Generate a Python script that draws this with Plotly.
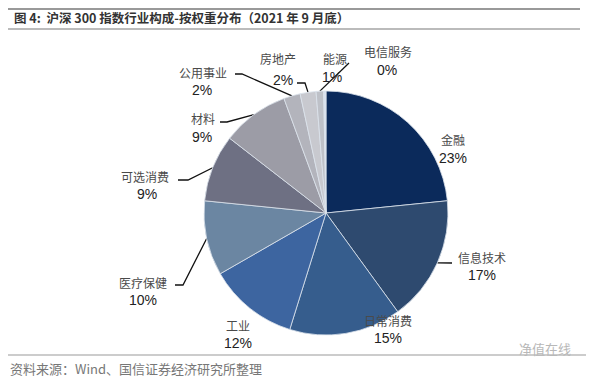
import math
import plotly.graph_objects as go

# ---- data ----
sectors = ["金融", "信息技术", "日常消费", "工业", "医疗保健", "可选消费",
           "材料", "公用事业", "房地产", "能源", "电信服务"]
weights = [23.4, 16.6, 14.8, 11.9, 9.9, 8.9, 8.9, 2.2, 2.1, 1.0, 0.3]
colors = ["#0B2A5B", "#2E4A6F", "#365D8D", "#3D65A0", "#6B86A2", "#6E7083",
          "#9C9CA6", "#B3B4BC", "#C8C9CF", "#BEC1C8", "#D9E2EE"]

title_text = "图 4:  沪深 300 指数行业构成-按权重分布（2021 年 9 月底）"
source_text = "资料来源：Wind、国信证券经济研究所整理"
watermark = "净值在线"

# ---- layout constants (screen pixels) ----
W, H = 594, 378          # browser window
OFF = 8                  # default page body margin
FW, FH = W - OFF, H - OFF
CX, CY, R = 326, 213, 122

label_pos = {  # name label centre, percent label centre
    "金融": ((453, 139), (453, 158)),
    "信息技术": ((482, 257), (482, 275)),
    "日常消费": ((388, 320), (388, 338)),
    "工业": ((238, 325), (238, 343)),
    "医疗保健": ((143, 282), (143, 300)),
    "可选消费": ((145, 176), (147, 194)),
    "材料": ((203, 118), (202, 137)),
    "公用事业": ((203, 72), (202, 90)),
    "房地产": ((278, 58), (283, 80)),
    "能源": ((335, 58), (332, 77)),
    "电信服务": ((388, 51), (387, 70)),
}
leader_start = {  # label-side points of leader lines
    "信息技术": [(452, 263)],
    "医疗保健": [(175, 285), (183, 285)],
    "可选消费": [(178, 180), (188, 180)],
    "材料": [(220, 122), (227, 122)],
    "公用事业": [(235, 74), (242, 74)],
    "房地产": [(297, 83), (305, 83)],
    "能源": [(349, 63)],
}


def px(x):
    return (x - OFF) / FW


def py(y):
    return 1 - (y - OFF) / FH


fig = go.Figure()

fig.add_trace(go.Pie(
    labels=sectors, values=weights, sort=False, direction="clockwise",
    rotation=0, textinfo="none", hoverinfo="label+percent",
    marker=dict(colors=colors, line=dict(color="#DCE3EC", width=0.8)),
    domain=dict(x=[px(CX - R), px(CX + R)], y=[py(CY + R), py(CY - R)]),
    showlegend=False,
))

# leader lines: from label to slice mid-angle on the pie edge
total = sum(weights)
cum = 0.0
mid_angle = {}
for s, v in zip(sectors, weights):
    mid_angle[s] = (cum + v / 2) / total * 2 * math.pi
    cum += v

lx, ly = [], []
for s, pts in leader_start.items():
    a = mid_angle[s]
    ex, ey = CX + R * math.sin(a), CY - R * math.cos(a)
    for p in pts:
        lx.append(p[0]); ly.append(p[1])
    lx.append(ex); ly.append(ey)
    lx.append(None); ly.append(None)

fig.add_trace(go.Scatter(x=lx, y=ly, mode="lines",
                         line=dict(color="#111111", width=1.3),
                         hoverinfo="skip", showlegend=False))

cn_font = "Noto Sans CJK SC"
annotations = []
for s, v in zip(sectors, weights):
    (nx, ny), (qx, qy) = label_pos[s]
    annotations.append(dict(x=nx, y=ny, xref="x", yref="y", text=s,
                            showarrow=False,
                            font=dict(family=cn_font, size=12, color="#4A4A4A")))
    annotations.append(dict(x=qx, y=qy, xref="x", yref="y",
                            text=f"{round(v / total * 100):.0f}%",
                            showarrow=False,
                            font=dict(family="Liberation Sans, Arial", size=14, color="#222222")))

annotations.append(dict(x=12, y=17, xref="x", yref="y", xanchor="left",
                        text="<b>" + title_text + "</b>", showarrow=False,
                        font=dict(family=cn_font, size=12.5, color="#333333")))
annotations.append(dict(x=8, y=368, xref="x", yref="y", xanchor="left", text=source_text,
                        showarrow=False,
                        font=dict(family=cn_font, size=13, color="#777777")))
annotations.append(dict(x=545, y=348, xref="x", yref="y", text=watermark,
                        showarrow=False,
                        font=dict(family=cn_font, size=13, color="#B8B8B8")))

shapes = [
    dict(type="line", xref="x", yref="y", x0=0, x1=580, y0=9, y1=9,
         line=dict(color="#999999", width=2)),
    dict(type="line", xref="x", yref="y", x0=0, x1=580, y0=29, y1=29,
         line=dict(color="#BBBBBB", width=2)),
    dict(type="line", xref="x", yref="y", x0=0, x1=586, y0=355, y1=355,
         line=dict(color="#999999", width=1)),
]

fig.update_layout(
    width=FW, height=FH, margin=dict(l=0, r=0, t=0, b=0),
    paper_bgcolor="white", plot_bgcolor="white",
    xaxis=dict(range=[OFF, W], visible=False, fixedrange=True, domain=[0, 1]),
    yaxis=dict(range=[H, OFF], visible=False, fixedrange=True, domain=[0, 1]),
    annotations=annotations, shapes=shapes, showlegend=False,
)

fig.write_html("out.html")
